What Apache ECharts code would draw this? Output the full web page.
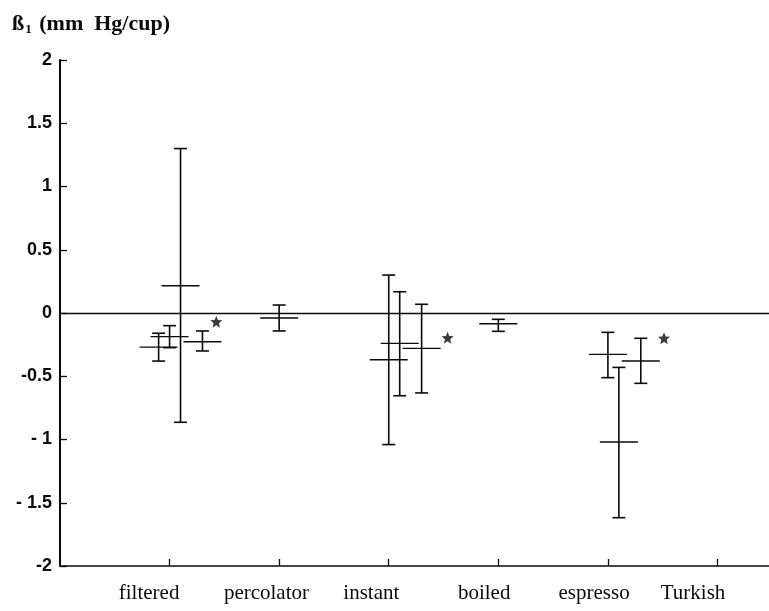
<!DOCTYPE html>
<html>
<head>
<meta charset="utf-8">
<script src="https://cdn.jsdelivr.net/npm/echarts@6/dist/echarts.min.js"></script>
<style>
  html, body { margin: 0; padding: 0; background: #fff; }
  #chart { width: 769px; height: 611px; }
</style>
</head>
<body>
<div id="chart"></div>
<script>
// Coffee type categories on the horizontal axis
const categories = ['filtered', 'percolator', 'instant', 'boiled', 'espresso', 'Turkish'];

// One entry per study: which coffee type it belongs to
const studyGroup = [0, 0, 0, 0, 1, 2, 2, 2, 3, 4, 4, 4];
// Slope estimate and its confidence limits (mm Hg per cup)
const estimate = [-0.27, -0.187, 0.216, -0.227, -0.04, -0.37, -0.24, -0.28, -0.085, -0.327, -1.02, -0.379];
const lower    = [-0.38, -0.274, -0.864, -0.30, -0.142, -1.04, -0.654, -0.632, -0.145, -0.511, -1.618, -0.556];
const upper    = [-0.16, -0.10, 1.30, -0.142, 0.063, 0.30, 0.168, 0.069, -0.05, -0.153, -0.43, -0.20];

// Significance markers (*) beside the pooled studies: [x, y] in axis units
const starPoints = [[0.426, -0.069], [2.537, -0.195], [4.512, -0.20]];

// Y axis tick labels, top to bottom
const yTickValues = [2, 1.5, 1, 0.5, 0, -0.5, -1, -1.5, -2];
const yTickLabels = ['2', '1.5', '1', '0.5', '0', '-0.5', '- 1', '- 1.5', '-2'];

// Layout: horizontal shift of each study inside its group, and category label anchors
const studyShift = [-0.1, 0, 0.1, 0.3, 0, 0, 0.1, 0.3, 0, 0, 0.1, 0.3];
const labelAnchor = [-0.187, 0.884, 1.841, 2.871, 3.874, 4.777];

const ink = '#0a0a0a';
const barData = estimate.map((e, i) => [studyGroup[i] + studyShift[i], e, lower[i], upper[i]]);

const chart = echarts.init(document.getElementById('chart'), null, { renderer: 'canvas' });

chart.setOption({
  backgroundColor: '#fff',
  animation: false,
  title: {
    text: '{b|ß}{s|1}{b| (mm  Hg/cup)}',
    left: 7,
    top: 8,
    textStyle: {
      rich: {
        b: { fontFamily: 'Liberation Serif', fontWeight: 'bold', fontSize: 22, color: ink },
        s: { fontFamily: 'Liberation Serif', fontWeight: 'bold', fontSize: 13, color: ink, padding: [10, 2, 0, 1] }
      }
    }
  },
  grid: { left: 60, right: 0, top: 60, bottom: 45, containLabel: false },
  xAxis: {
    type: 'value',
    min: -1,
    max: 5.47,
    splitLine: { show: false },
    axisLine: { onZero: false, lineStyle: { color: ink, width: 1.5 } },
    axisTick: { inside: true, length: 7, customValues: [0, 1, 2, 3, 4, 5], lineStyle: { color: ink, width: 1.3 } },
    axisLabel: {
      customValues: labelAnchor,
      margin: 17,
      fontFamily: 'Liberation Serif',
      fontSize: 21,
      color: ink,
      formatter: v => {
        let best = 0;
        labelAnchor.forEach((p, i) => { if (Math.abs(p - v) < Math.abs(labelAnchor[best] - v)) best = i; });
        return categories[best];
      }
    }
  },
  yAxis: {
    type: 'value',
    min: -2,
    max: 2,
    interval: 0.5,
    splitLine: { show: false },
    axisLine: { onZero: false, lineStyle: { color: ink, width: 2 } },
    axisTick: { inside: true, length: 7, lineStyle: { color: ink, width: 1.3 } },
    axisLabel: {
      margin: 8,
      fontFamily: 'Liberation Sans',
      fontWeight: 'bold',
      fontSize: 18,
      color: ink,
      formatter: v => {
        const i = yTickValues.findIndex(t => Math.abs(t - v) < 1e-9);
        return i >= 0 ? yTickLabels[i] : '';
      }
    }
  },
  series: [
    {
      type: 'custom',
      name: 'studies',
      data: barData,
      encode: { x: 0, y: [1, 2, 3] },
      silent: true,
      renderItem: (params, api) => {
        const x = api.value(0);
        const pEst = api.coord([x, api.value(1)]);
        const pLo = api.coord([x, api.value(2)]);
        const pHi = api.coord([x, api.value(3)]);
        const cap = 6.5, arm = 19;
        const st = { stroke: ink, lineWidth: 1.6 };
        return {
          type: 'group',
          children: [
            { type: 'line', shape: { x1: pLo[0], y1: pLo[1], x2: pHi[0], y2: pHi[1] }, style: st },
            { type: 'line', shape: { x1: pHi[0] - cap, y1: pHi[1], x2: pHi[0] + cap, y2: pHi[1] }, style: st },
            { type: 'line', shape: { x1: pLo[0] - cap, y1: pLo[1], x2: pLo[0] + cap, y2: pLo[1] }, style: st },
            { type: 'line', shape: { x1: pEst[0] - arm, y1: pEst[1], x2: pEst[0] + arm, y2: pEst[1] }, style: { stroke: ink, lineWidth: 1.4 } }
          ]
        };
      },
      markLine: {
        silent: true,
        symbol: ['none', 'none'],
        label: { show: false },
        lineStyle: { color: ink, width: 1.4, type: 'solid' },
        data: [{ yAxis: 0 }]
      },
      z: 3
    },
    {
      type: 'scatter',
      name: 'significant',
      data: starPoints,
      symbol: 'path://M50,0 L63,33 L98,35 L71,58 L80,93 L50,74 L20,93 L29,58 L2,35 L37,33 Z',
      symbolSize: 12,
      itemStyle: { color: ink },
      silent: true
    }
  ]
});
</script>
</body>
</html>
